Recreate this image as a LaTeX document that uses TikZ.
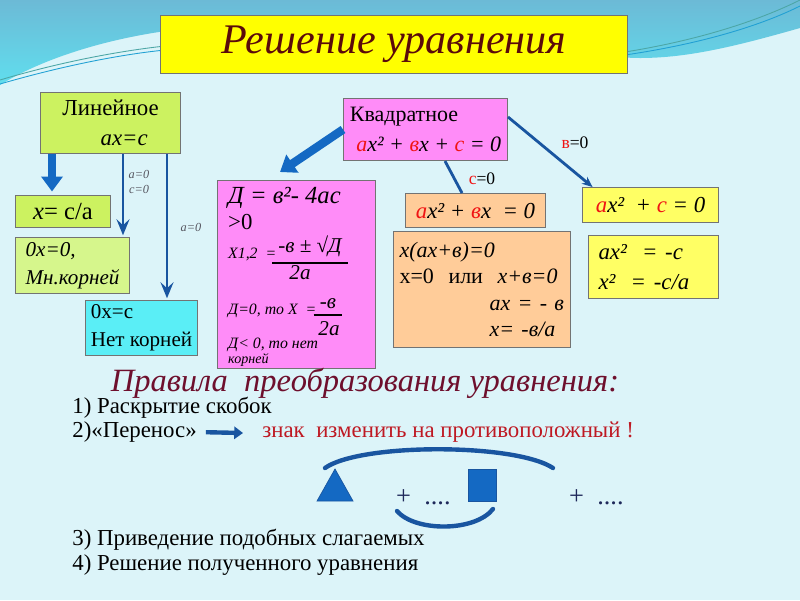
\documentclass[tikz,border=0pt]{standalone}
\usepackage{fontspec}
\setmainfont{Liberation Serif}
\usetikzlibrary{arrows.meta,positioning}

\definecolor{bgcyan}{RGB}{220,244,249}
\definecolor{topblue}{RGB}{108,186,214}
\definecolor{toplight}{RGB}{96,222,238}
\definecolor{titleyellow}{RGB}{255,255,0}
\definecolor{titlered}{RGB}{90,10,10}
\definecolor{limegreen}{RGB}{204,242,96}
\definecolor{palegreen}{RGB}{214,246,140}
\definecolor{cyanbox}{RGB}{90,238,246}
\definecolor{pinkbox}{RGB}{255,140,248}
\definecolor{orangebox}{RGB}{255,204,153}
\definecolor{yellowbox}{RGB}{255,255,100}
\definecolor{arrowblue}{RGB}{25,85,160}
\definecolor{shapeblue}{RGB}{20,105,195}
\definecolor{redletter}{RGB}{240,20,20}
\definecolor{rulered}{RGB}{110,15,45}
\definecolor{signred}{RGB}{190,25,35}
\definecolor{navy}{RGB}{30,40,90}
\definecolor{labelgray}{RGB}{85,85,95}

\newcommand{\rd}[1]{\textcolor{redletter}{#1}}
\newcommand{\fs}[2]{\fontsize{#1}{#2}\selectfont}

\tikzset{
  box/.style={draw=black!55, line width=0.6pt, anchor=north west, inner sep=0pt},
  bigarrow/.style={line width=0.17cm, shapeblue, -{Triangle[length=0.3cm,width=0.42cm]}},
  thinarrow/.style={line width=1.6pt, arrowblue, -{Stealth[length=0.32cm,width=0.26cm,inset=0.12cm]}},
  link/.style={line width=1.6pt, arrowblue},
  lbl/.style={text=labelgray, font=\itshape\fs{7}{8}},
  ruletext/.style={anchor=west, inner sep=0pt, font=\fs{13}{15}},
  dline/.style={anchor=west, font=\itshape\fs{9}{11}},
  frac/.style={font=\itshape\fs{12}{14}},
}

\begin{document}
\begin{tikzpicture}[x=0.02cm,y=-0.02cm]
\useasboundingbox (0,0) rectangle (800,600);
% background
\fill[bgcyan] (0,0) rectangle (800,600);
\shade[top color=topblue, bottom color=toplight] (0,0) -- (800,0) -- (800,28)
  .. controls (740,45) and (690,58) .. (640,58)
  .. controls (500,55) and (300,20) .. (200,27)
  .. controls (110,35) and (40,60) .. (0,85) -- cycle;
\draw[teal!70, line width=0.5pt] (0,80) .. controls (50,65) and (110,52) .. (165,46);
\draw[cyan!70!teal, line width=0.5pt] (0,84) .. controls (55,68) and (115,55) .. (165,50);
\draw[teal!70, line width=0.5pt] (625,52) .. controls (700,40) and (760,20) .. (800,0);
\draw[cyan!70!teal, line width=0.5pt] (625,55) .. controls (700,44) and (760,26) .. (800,6);

% title
\node[box, fill=titleyellow, minimum width=9.34cm, minimum height=1.16cm,
      text=titlered, font=\itshape\fs{24}{26}] (title) at (160,15) {Решение уравнения};

% linear branch
\node[box, fill=limegreen, minimum width=2.8cm, minimum height=1.22cm, align=center,
      font=\fs{13}{17}] (lin) at (40,92) {Линейное\\\hspace*{1.2em}\textit{ax=c}};
\node[box, fill=limegreen, minimum width=1.9cm, minimum height=0.64cm,
      font=\fs{14}{16}] (xca) at (15,195) {\textit{x}= c/a};
\node[box, fill=palegreen, minimum width=2.28cm, minimum height=1.12cm, align=left,
      font=\itshape\fs{12}{16}] (zero) at (15,237) {0x=0,\\Мн.корней};
\node[box, fill=cyanbox, minimum width=2.24cm, minimum height=1.1cm, align=left,
      font=\fs{12}{16}] (nor) at (85,300) {0x=c\\Нет корней};

\coordinate (c1) at (52,0);
\coordinate (c2) at (123,0);
\coordinate (c3) at (167,0);
\draw[bigarrow, shorten >=2pt] (lin.south -| c1) -- (xca.north -| c1);
\draw[thinarrow, shorten >=1pt] (lin.south -| c2) -- (zero.north -| c2);
\draw[thinarrow, shorten >=1pt] (lin.south -| c3) -- (nor.north -| c3);
\node[lbl] (l1) at (139,174) {a=0};
\node[lbl] (l2) at (139,189) {c=0};
\node[lbl] (l3) at (191,227) {a=0};

% quadratic branch
\node[box, fill=pinkbox, minimum width=3.28cm, minimum height=1.24cm, align=left,
      font=\fs{12.5}{17}] (quad) at (343,98)
      {Квадратное\\\hspace*{0.3em}\textit{\rd{a}x² + \rd{в}x + \rd{c} = 0}};
\node[box, fill=pinkbox, minimum width=3.16cm, minimum height=3.76cm] (disc) at (217,180) {};
\node[box, fill=orangebox, minimum width=2.8cm, minimum height=0.68cm,
      font=\itshape\fs{13}{15}] (or1) at (405,193) {\rd{a}x² + \rd{в}x \ = 0};
\node[box, fill=orangebox, minimum width=3.54cm, minimum height=2.32cm, align=left,
      text width=3.3cm, font=\fs{12.5}{15}] (or2) at (393,231)
      {\textit{x(ax+в)=0}\\x=0 \ или \ \textit{x+в=0}\\\hspace*{4.1em}\textit{ax = - в}\\\hspace*{4.1em}\textit{x= -в/a}};
\node[box, fill=yellowbox, minimum width=2.72cm, minimum height=0.7cm,
      font=\itshape\fs{13}{15}] (ye1) at (582,187) {\rd{a}x² \ + \rd{c} = 0};
\node[box, fill=yellowbox, minimum width=2.6cm, minimum height=1.26cm, align=left,
      text width=2.2cm, font=\itshape\fs{13}{17}] (ye2) at (588,235) {ax² \ = -c\\x² \ = -c/a};

\coordinate (q1) at (280,172);
\draw[bigarrow] (quad.west) -- (q1);
\coordinate (k1) at (445,0);
\coordinate (k2) at (462,0);
\coordinate (k3) at (0,117);
\draw[link] (quad.south -| k1) -- (or1.north -| k2);
\node[font=\fs{10}{12}] (cz) at (482,179) {\rd{c}=0};
\draw[link, -{Stealth[length=6pt,width=5pt]}] (quad.east |- k3) -- ([xshift=6pt]ye1.north west);
\node[font=\fs{10}{12}] (bz) at (575,143) {\rd{в}=0};

% discriminant text
\node[anchor=west, font=\itshape\fs{14}{15}] (d1) at (222,198) {Д = в²- 4ac};
\node[anchor=west, font=\fs{13}{15}] (d2) at (222,222) {>0};
\node[dline] (d3) at (222,254) {X1,2 \ =};
\node[frac] (n1) at (310,246) {-в ± √Д};
\draw[line width=1pt] (n1.south west) -- (n1.south east);
\node[frac] (n2) at (300,273) {2a};
\node[dline] (d4) at (222,311) {Д=0, то X \ =};
\node[frac] (n3) at (328,304) {-в};
\draw[line width=1pt] (n3.south west) -- (n3.south east);
\node[frac] (n4) at (329,329) {2a};
\node[dline] (d5) at (222,345) {Д< 0, то нет};
\node[dline, font=\itshape\fs{8}{9}] (d6) at (222,360) {корней};

% rules
\node[font=\itshape\fs{18.5}{21}, text=rulered] (rules) at (365,383) {Правила \ преобразования уравнения:};
\node[ruletext] (r1) at (72,408) {1) Раскрытие скобок};
\node[ruletext] (r2) at (72,432) {2)«Перенос»};
\coordinate (pe) at (243,433);
\draw[line width=2.5pt, arrowblue, -{Triangle[length=5pt,width=7pt]}, shorten <=5pt] (r2.east) -- (pe);
\node[ruletext, text=signred] (sign) at (262,432) {знак \ изменить на противоположный !};

\filldraw[fill=shapeblue, draw=arrowblue] (317,501) -- (353,501) -- (335,469) -- cycle;
\filldraw[fill=shapeblue, draw=arrowblue] (468,469) rectangle (496,501);
\node[anchor=west, font=\fs{15}{17}, text=navy] (p1) at (390,497) {+ \ ....};
\node[anchor=west, font=\fs{15}{17}, text=navy] (p2) at (563,497) {+ \ ....};
\draw[arrowblue, line width=2.5pt, line cap=round] (325,468) .. controls (360,443) and (515,443) .. (553,468);
\draw[arrowblue, line width=2.5pt, line cap=round] (397,511) .. controls (415,532) and (475,532) .. (493,509);

\node[ruletext] (r3) at (72,540) {3) Приведение подобных слагаемых};
\node[ruletext] (r4) at (72,565) {4) Решение полученного уравнения};
\end{tikzpicture}
\end{document}
